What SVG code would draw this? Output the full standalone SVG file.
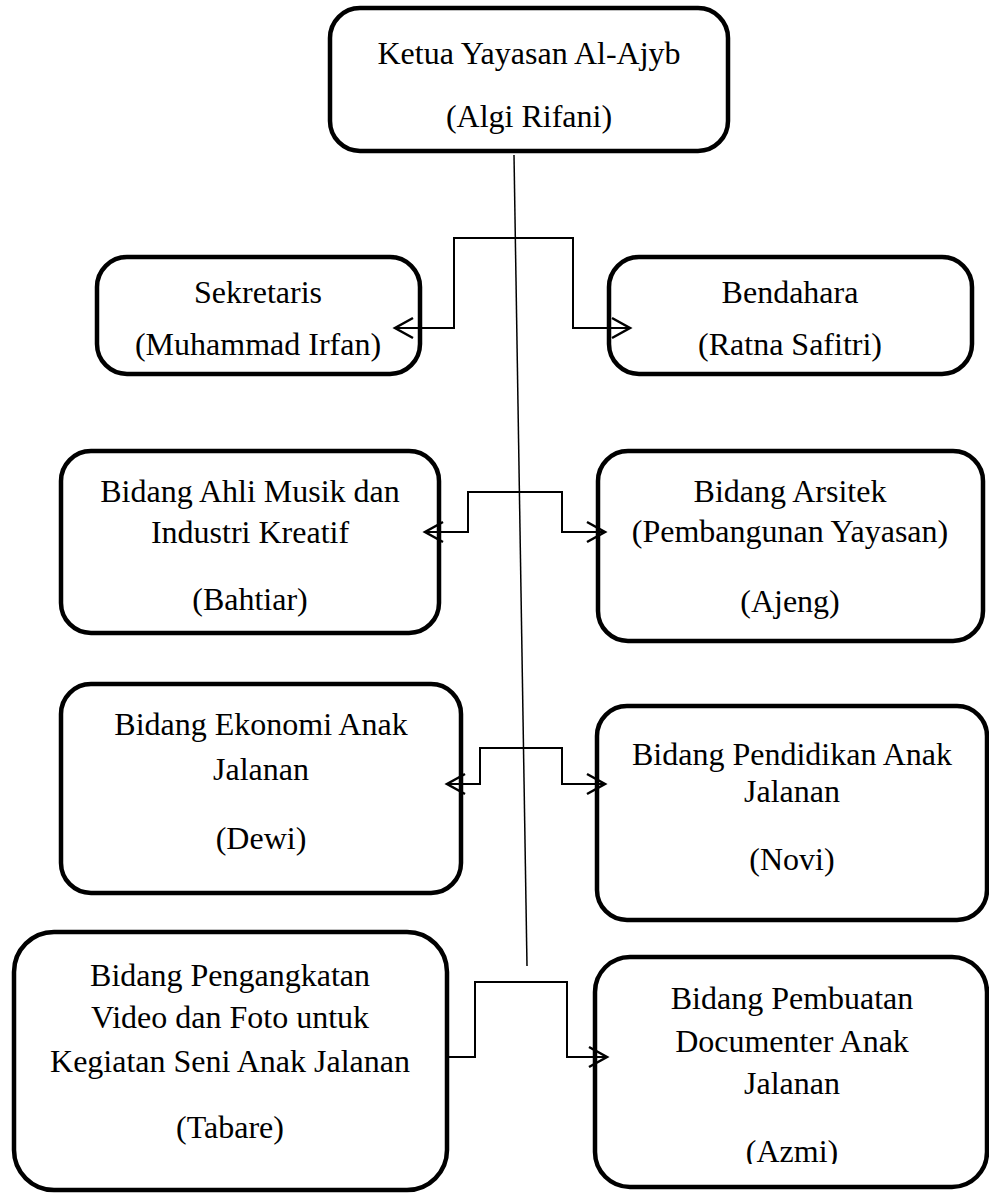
<svg xmlns="http://www.w3.org/2000/svg" width="989" height="1194" viewBox="0 0 989 1194">
<style>
.box{fill:#fff;stroke:#000;stroke-width:4.5}
.t{font-family:"Liberation Serif","Times New Roman",serif;font-size:32px;fill:#000;text-anchor:middle}
.c{fill:none;stroke:#000;stroke-width:2}
.spine{fill:none;stroke:#000;stroke-width:1.5}
</style>
<defs>
<marker id="arr" markerUnits="userSpaceOnUse" markerWidth="26" markerHeight="26" viewBox="-22 -13 26 26" refX="0" refY="0" orient="auto-start-reverse">
<path d="M-18,-10 L0,0 L-18,10" fill="none" stroke="#000" stroke-width="2.5"/>
</marker>
<clipPath id="azmiClip"><rect x="595" y="1100" width="392" height="64"/></clipPath>
</defs>
<rect width="989" height="1194" fill="#fff"/>
<g id="ketua">
<rect class="box" x="330" y="8" width="398" height="143" rx="30"/>
<text class="t" x="529" y="64">Ketua Yayasan Al-Ajyb</text>
<text class="t" x="529" y="127">(Algi Rifani)</text>
</g>
<g id="sekretaris">
<rect class="box" x="97" y="257" width="323" height="117" rx="30"/>
<text class="t" x="258" y="303">Sekretaris</text>
<text class="t" x="258" y="355">(Muhammad Irfan)</text>
</g>
<g id="bendahara">
<rect class="box" x="609" y="257" width="363" height="117" rx="30"/>
<text class="t" x="790" y="303">Bendahara</text>
<text class="t" x="790" y="355">(Ratna Safitri)</text>
</g>
<g id="ahli-musik">
<rect class="box" x="61" y="451" width="378" height="182" rx="30"/>
<text class="t" x="250" y="502">Bidang Ahli Musik dan</text>
<text class="t" x="250" y="543">Industri Kreatif</text>
<text class="t" x="250" y="610">(Bahtiar)</text>
</g>
<g id="arsitek">
<rect class="box" x="598" y="451" width="385" height="190" rx="30"/>
<text class="t" x="790" y="502">Bidang Arsitek</text>
<text class="t" x="790" y="542">(Pembangunan Yayasan)</text>
<text class="t" x="790" y="612">(Ajeng)</text>
</g>
<g id="ekonomi">
<rect class="box" x="61" y="684" width="400" height="209" rx="30"/>
<text class="t" x="261" y="735">Bidang Ekonomi Anak</text>
<text class="t" x="261" y="780">Jalanan</text>
<text class="t" x="261" y="849">(Dewi)</text>
</g>
<g id="pendidikan">
<rect class="box" x="597" y="706" width="390" height="214" rx="30"/>
<text class="t" x="792" y="765">Bidang Pendidikan Anak</text>
<text class="t" x="792" y="802">Jalanan</text>
<text class="t" x="792" y="870">(Novi)</text>
</g>
<g id="pengangkatan">
<rect class="box" x="14" y="932" width="433" height="258" rx="40"/>
<text class="t" x="230" y="986">Bidang Pengangkatan</text>
<text class="t" x="230" y="1028">Video dan Foto untuk</text>
<text class="t" x="230" y="1072">Kegiatan Seni Anak Jalanan</text>
<text class="t" x="230" y="1138">(Tabare)</text>
</g>
<g id="pembuatan">
<rect class="box" x="595" y="957" width="392" height="230" rx="35"/>
<text class="t" x="792" y="1009">Bidang Pembuatan</text>
<text class="t" x="792" y="1052">Documenter Anak</text>
<text class="t" x="792" y="1094">Jalanan</text>
<text class="t" x="792" y="1162" clip-path="url(#azmiClip)">(Azmi)</text>
</g>
<g id="connectors">
<path class="spine" d="M514,155 L527,966"/>
<path class="c" d="M395,328 H454 V238 H573 V328 H630" marker-start="url(#arr)" marker-end="url(#arr)"/>
<path class="c" d="M425,532 H468 V492 H562 V532 H605" marker-start="url(#arr)" marker-end="url(#arr)"/>
<path class="c" d="M447,784 H480 V748 H562 V784 H605" marker-start="url(#arr)" marker-end="url(#arr)"/>
<path class="c" d="M447,1057 H475 V982 H567 V1057 H607" marker-end="url(#arr)"/>
</g>
</svg>
